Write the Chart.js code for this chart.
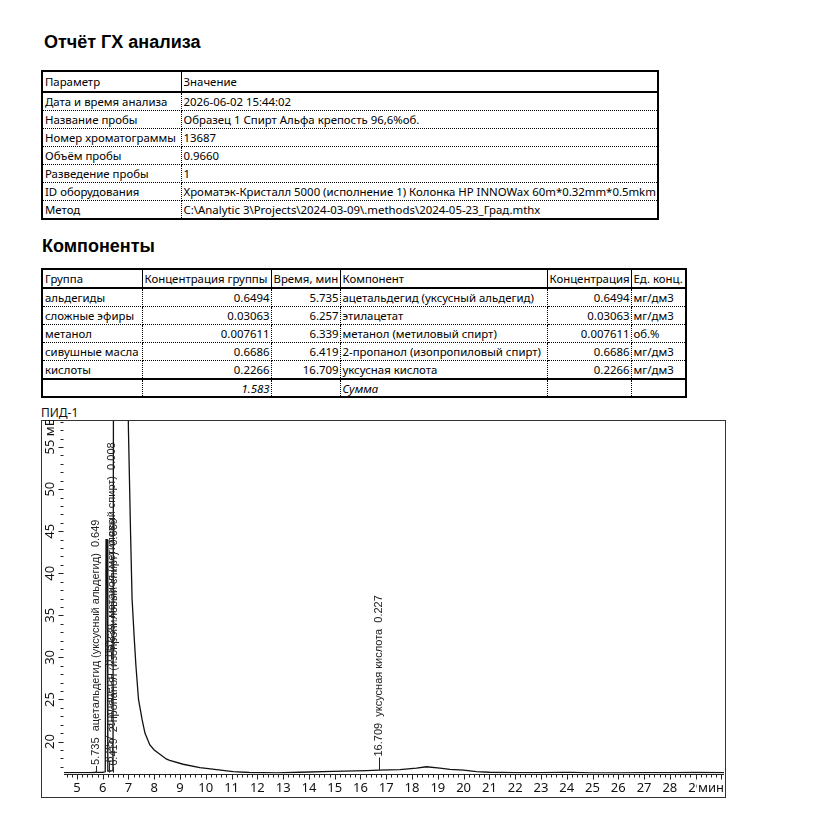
<!DOCTYPE html>
<html><head><meta charset="utf-8">
<script src="https://cdn.jsdelivr.net/npm/chart.js@4.4.1/dist/chart.umd.min.js"></script>
<style>
html,body{margin:0;padding:0;background:#fff;}
body{width:830px;height:836px;position:relative;overflow:hidden;font-family:"Noto Sans",sans-serif;color:#000;}
.h{position:absolute;font-family:"Liberation Sans",Arial,sans-serif;font-weight:bold;font-size:18px;line-height:18px;margin:0;white-space:nowrap;}
table{position:absolute;border-collapse:collapse;table-layout:fixed;border:2px solid #000;font-size:11.4px;}
td{padding:0 0 0 2px;height:17px;border-bottom:1px dotted #000;border-right:1px dotted #000;white-space:nowrap;overflow:hidden;line-height:13px;}
tr.hd td{border-bottom:2px solid #000;height:19px;border-right:1px solid #000;}
#t2 tr.hd td{height:17px;}
td.r{text-align:right;padding:0 1px 0 0;}
tr.sum td{border-top:2px solid #000;font-style:italic;height:16px;}
#pid{position:absolute;left:41px;top:407px;font-size:12px;line-height:12px;color:#111;}
#c{position:absolute;left:41px;top:420px;}
</style></head>
<body>
<div class="h" style="left:44px;top:33px;">Отчёт ГХ анализа</div>
<table id="t1" style="left:41px;top:70px;width:616px;"></table>
<div class="h" style="left:42px;top:237px;">Компоненты</div>
<table id="t2" style="left:41px;top:268px;width:644px;"></table>
<div id="pid">ПИД-1</div>
<canvas id="c" width="685" height="378"></canvas>
<script>
// ---- report data ----
const paramHeader = ['Параметр', 'Значение'];
const paramNames = ['Дата и время анализа', 'Название пробы', 'Номер хроматограммы', 'Объём пробы', 'Разведение пробы', 'ID оборудования', 'Метод'];
const paramValues = ['2026-06-02 15:44:02', 'Образец 1 Спирт Альфа крепость 96,6%об.', '13687', '0.9660', '1',
  'Хроматэк-Кристалл 5000 (исполнение 1) Колонка HP INNOWax 60m*0.32mm*0.5mkm',
  'C:\\Analytic 3\\Projects\\2024-03-09\\.methods\\2024-05-23_Град.mthx'];

const compHeader = ['Группа', 'Концентрация группы', 'Время, мин', 'Компонент', 'Концентрация', 'Ед. конц.'];
const groups = ['альдегиды', 'сложные эфиры', 'метанол', 'сивушные масла', 'кислоты'];
const groupConc = ['0.6494', '0.03063', '0.007611', '0.6686', '0.2266'];
const retTimes = ['5.735', '6.257', '6.339', '6.419', '16.709'];
const components = ['ацетальдегид (уксусный альдегид)', 'этилацетат', 'метанол (метиловый спирт)', '2-пропанол (изопропиловый спирт)', 'уксусная кислота'];
const compConc = ['0.6494', '0.03063', '0.007611', '0.6686', '0.2266'];
const units = ['мг/дм3', 'мг/дм3', 'об.%', 'мг/дм3', 'мг/дм3'];
const sumValue = '1.583';
const sumLabel = 'Сумма';

// ---- chromatogram data ----
const times  = [4.5, 5.0, 5.5, 5.70, 5.735, 5.77, 6.0, 6.10, 6.13, 6.17, 6.20, 6.30, 6.40, 6.43, 6.97, 7.00, 7.08, 7.14, 7.22, 7.29, 7.39, 7.53, 7.64, 7.83, 8.0, 8.22, 8.48, 8.6, 9.12, 9.77, 10.42, 11.06, 11.7, 12.75, 13.65, 14.93, 16.24, 16.709, 17.53, 18.17, 18.56, 19.08, 19.47, 20.0, 20.5, 21.0, 22, 23, 23.8, 24.2, 25, 26, 27, 28, 29, 30.1];
const signal = [16.3, 16.3, 16.3, 16.32, 16.38, 16.33, 16.35, 16.4, 44, 44, 16.5, 16.5, 16.55, 90, 64, 57, 45, 37, 32.5, 29, 25, 22.6, 21, 19.6, 19.0, 18.5, 17.9, 17.75, 17.3, 16.9, 16.65, 16.42, 16.32, 16.28, 16.35, 16.45, 16.55, 16.6, 16.65, 16.85, 17.0, 16.85, 16.7, 16.6, 16.42, 16.35, 16.3, 16.3, 16.34, 16.34, 16.28, 16.28, 16.3, 16.3, 16.32, 16.3];

const peakTimes   = [5.735, 6.257, 6.339, 6.419, 16.709];
const peakNames   = ['ацетальдегид (уксусный альдегид)', 'этилацетат', 'метанол (метиловый спирт)', '2-пропанол (изопропиловый спирт)', 'уксусная кислота'];
const peakAmounts = ['0.649', '0.031', '0.008', '0.669', '0.227'];
const peakApex    = [16.25, 16.3, 29.8, 16.3, 16.6];
const labelBase   = [17.1, 17.4, 30.6, 17.0, 18.1];

const xMin = 4.5, xMax = 30.1, yMin = 16.2, yMax = 58.1;
const xTickLabels = [5,6,7,8,9,10,11,12,13,14,15,16,17,18,19,20,21,22,23,24,25,26,27,28,29];
const yTickLabels = [20,25,30,35,40,45,50,55];
const xUnit = 'мин', yUnit = 'мВ';

// ---- build tables ----
function row(cells, cls, rightCols) {
  const tr = document.createElement('tr');
  if (cls) tr.className = cls;
  cells.forEach((c, i) => {
    const td = document.createElement('td');
    td.textContent = c;
    if (rightCols && rightCols.includes(i)) td.className = 'r';
    tr.appendChild(td);
  });
  return tr;
}
const t1 = document.getElementById('t1');
const cg1 = document.createElement('colgroup');
[139, 477].forEach(w => { const c = document.createElement('col'); c.style.width = w + 'px'; cg1.appendChild(c); });
t1.appendChild(cg1);
t1.appendChild(row(paramHeader, 'hd'));
paramNames.forEach((n, i) => t1.appendChild(row([n, paramValues[i]])));

const t2 = document.getElementById('t2');
const cg2 = document.createElement('colgroup');
[100, 129, 69, 207, 84, 55].forEach(w => { const c = document.createElement('col'); c.style.width = w + 'px'; cg2.appendChild(c); });
t2.appendChild(cg2);
t2.appendChild(row(compHeader, 'hd'));
groups.forEach((g, i) => t2.appendChild(row([g, groupConc[i], retTimes[i], components[i], compConc[i], units[i]], null, [1, 2, 4])));
t2.appendChild(row(['', sumValue, '', sumLabel, '', ''], 'sum', [1]));

// ---- chart ----
const decor = {
  id: 'decor',
  afterDraw(chart) {
    const c = chart.ctx, xs = chart.scales.x, ys = chart.scales.y, a = chart.chartArea;
    c.save();
    c.strokeStyle = '#333'; c.lineWidth = 1;
    c.strokeRect(0.5, 0.5, chart.width - 1, chart.height - 1);
    c.strokeStyle = '#222';
    const by = Math.round(ys.getPixelForValue(yMin)) + 0.5;
    const lx = Math.round(xs.getPixelForValue(xMin)) - 0.5;
    c.beginPath(); c.moveTo(a.left, by); c.lineTo(a.right, by); c.stroke();
    for (let k = Math.ceil(xMin * 5); k <= Math.floor(xMax * 5); k++) {
      const px = Math.round(xs.getPixelForValue(k / 5)) + 0.5;
      const len = k % 5 === 0 ? 5 : 3;
      c.beginPath(); c.moveTo(px, by); c.lineTo(px, by + len); c.stroke();
    }
    for (let v = Math.ceil(yMin); v <= Math.floor(yMax); v++) {
      const py = Math.round(ys.getPixelForValue(v)) + 0.5;
      const len = v % 5 === 0 ? 5 : 3;
      c.beginPath(); c.moveTo(lx, py); c.lineTo(lx - len, py); c.stroke();
    }
    c.fillStyle = '#111';
    c.font = '13px "Noto Sans"';
    c.textAlign = 'center'; c.textBaseline = 'middle';
    xTickLabels.forEach(v => c.fillText(String(v), xs.getPixelForValue(v), by + 14));
    c.textAlign = 'right';
    const mw = c.measureText(xUnit).width;
    c.fillStyle = '#fff'; c.fillRect(a.right - mw - 1, by + 6, mw + 2, 16);
    c.fillStyle = '#111'; c.fillText(xUnit, a.right, by + 14);
    yTickLabels.forEach(v => {
      const py = ys.getPixelForValue(v);
      c.save(); c.translate(lx - 13, py); c.rotate(-Math.PI / 2);
      c.textBaseline = 'middle';
      if (v === yTickLabels[yTickLabels.length - 1]) {
        const w = c.measureText(String(v)).width;
        c.textAlign = 'left'; c.fillText(v + ' ' + yUnit, -w / 2, 0);
      } else { c.textAlign = 'center'; c.fillText(String(v), 0, 0); }
      c.restore();
    });
    c.beginPath(); c.rect(a.left, a.top - 1, a.right - a.left, a.bottom - a.top + 2); c.clip();
    c.font = '11px "Liberation Sans", Arial, sans-serif';
    c.fillStyle = '#222'; c.strokeStyle = '#222';
    peakTimes.forEach((t, i) => {
      const px = xs.getPixelForValue(t);
      const pa = ys.getPixelForValue(peakApex[i]);
      const pl = ys.getPixelForValue(labelBase[i]);
      c.beginPath(); c.moveTo(Math.round(px) + 0.5, pa); c.lineTo(Math.round(px) + 0.5, pl); c.stroke();
      c.save(); c.translate(px + 0.5, pl - 1); c.rotate(-Math.PI / 2);
      c.textAlign = 'left'; c.textBaseline = 'middle';
      c.fillText(t.toFixed(3) + '  ' + peakNames[i] + '  ' + peakAmounts[i], 0, 0);
      c.restore();
    });
    c.restore();
  }
};

new Chart(document.getElementById('c'), {
  type: 'line',
  data: { datasets: [{ data: times.map((t, i) => ({ x: t, y: signal[i] })), borderColor: '#111', borderWidth: 1.3, pointRadius: 0, tension: 0, fill: false }] },
  options: {
    responsive: false, animation: false,
    layout: { padding: { left: 23, top: 1, right: 2, bottom: 24.5 }, autoPadding: false },
    plugins: { legend: { display: false }, tooltip: { enabled: false } },
    scales: {
      x: { type: 'linear', min: xMin, max: xMax, display: false },
      y: { type: 'linear', min: yMin, max: yMax, display: false }
    }
  },
  plugins: [decor]
});
</script>
</body></html>
